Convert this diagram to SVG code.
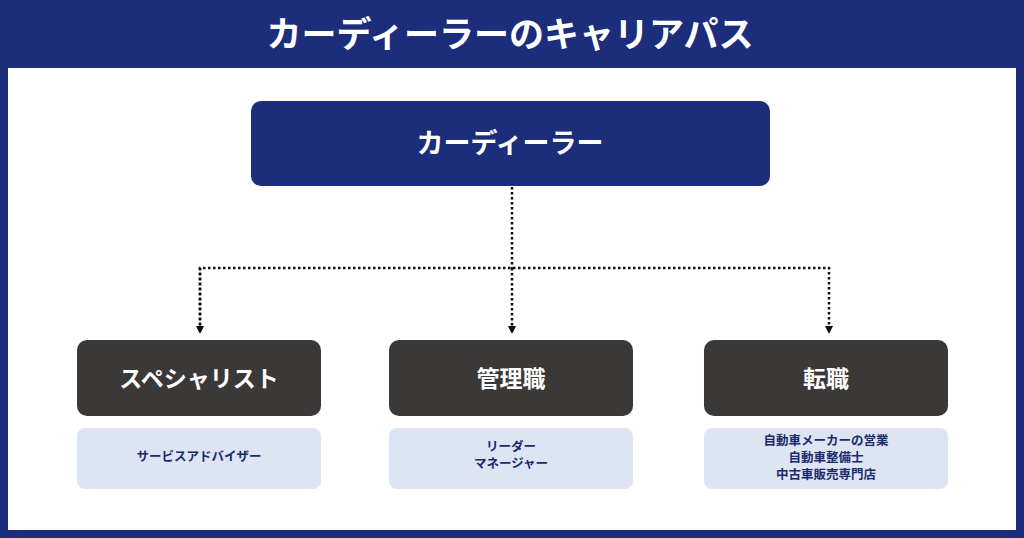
<svg xmlns="http://www.w3.org/2000/svg" width="1024" height="538" viewBox="0 0 1024 538">
<style>
text{font-family:"Noto Sans CJK JP","Noto Sans",sans-serif;font-weight:bold;text-anchor:middle;dominant-baseline:central}
.dark{fill:#3b3937}.light{fill:#dde5f2}
.w{fill:#fff}.n{fill:#1a2a6c;font-size:12.5px}
.c{fill:none;stroke:#111;stroke-width:2.5;stroke-dasharray:2.5 2.5}
</style>
<defs><marker id="a" markerWidth="8" markerHeight="8" refX="4" refY="4" orient="auto" markerUnits="userSpaceOnUse"><path d="M0,0 L8,4 L0,8 Z" fill="#111"/></marker></defs>
<rect width="1024" height="538" fill="#1b2d7b"/>
<rect x="8" y="68" width="1008" height="462" fill="#fff"/>
<text x="510" y="31" class="w" style="font-size:35px">カーディーラーのキャリアパス</text>
<g id="connectors">
<path class="c" d="M512,187 V268"/>
<path class="c" d="M200,330 V268 H829 V330" marker-end="url(#a)"/>
<path class="c" d="M200,268 V330" marker-end="url(#a)"/>
<path class="c" d="M512,268 V330" marker-end="url(#a)"/>
</g>
<g id="top"><rect x="251" y="101" width="519" height="85" rx="10" fill="#1b2d7b"/><text x="510" y="141" class="w" style="font-size:27px">カーディーラー</text></g>
<g id="n1"><rect x="77" y="340" width="244" height="76" rx="10" class="dark"/><text x="199" y="377" class="w" style="font-size:23px">スペシャリスト</text></g>
<g id="n2"><rect x="389" y="340" width="244" height="76" rx="10" class="dark"/><text x="511" y="377" class="w" style="font-size:23px">管理職</text></g>
<g id="n3"><rect x="704" y="340" width="244" height="76" rx="10" class="dark"/><text x="826" y="377" class="w" style="font-size:23px">転職</text></g>
<g id="d1"><rect x="77" y="428" width="244" height="61" rx="8" class="light"/><text x="199" y="455" class="n">サービスアドバイザー</text></g>
<g id="d2"><rect x="389" y="428" width="244" height="61" rx="8" class="light"/><text x="511" y="445" class="n">リーダー</text><text x="511" y="462" class="n">マネージャー</text></g>
<g id="d3"><rect x="704" y="428" width="244" height="61" rx="8" class="light"/><text x="826" y="439" class="n">自動車メーカーの営業</text><text x="826" y="456" class="n">自動車整備士</text><text x="826" y="473" class="n">中古車販売専門店</text></g>
</svg>
